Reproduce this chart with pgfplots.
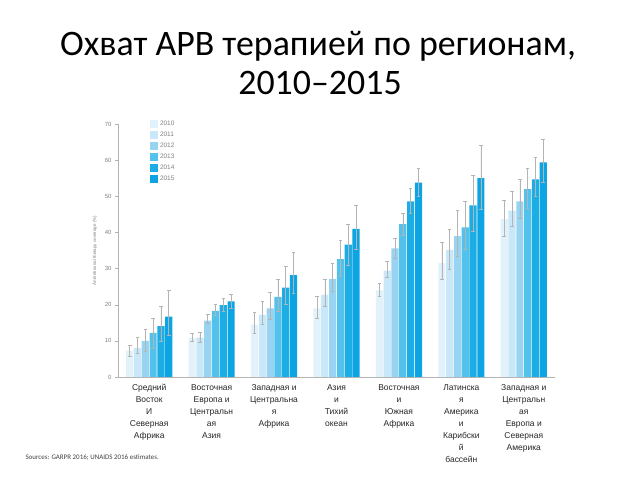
\documentclass[border=0pt]{standalone}
\usepackage{fontspec}
\setmainfont{Carlito}
\newfontfamily\labelfont{Liberation Sans}
\usepackage{pgfplots}
\pgfplotsset{compat=1.18}

\definecolor{c2010}{HTML}{E2F2FB}
\definecolor{c2011}{HTML}{C8E7F8}
\definecolor{c2012}{HTML}{98D4F1}
\definecolor{c2013}{HTML}{52C2EC}
\definecolor{c2014}{HTML}{1CADE5}
\definecolor{c2015}{HTML}{0CA4E2}
\definecolor{errc}{HTML}{B4B4B4}

\begin{document}
\begin{tikzpicture}
\path[use as bounding box] (0,0) rectangle (640bp,480bp);

\node[anchor=base, font=\fontsize{36}{40}\selectfont] at (318bp,424bp) {Охват АРВ терапией по регионам,};
\node[anchor=base, font=\fontsize{36}{40}\selectfont] at (320bp,385bp) {2010–2015};
\node[anchor=base west, font=\fontsize{7}{8}\selectfont, text=black!75] at (22bp,21bp) {Sources: GARPR 2016; UNAIDS 2016 estimates.};

\begin{axis}[
    at={(118bp,103bp)}, anchor=south west,
    scale only axis, width=437bp, height=253bp,
    xmin=-0.5, xmax=6.5, ymin=0, ymax=70,
    ybar=0.6bp, bar width=7.2bp,
    axis x line*=bottom, axis y line*=left,
    axis line style={-, errc, line width=0.5pt},
    ytick={0,10,...,70},
    tick align=outside, major tick length=3bp,
    ytick style={errc},
    xtick={0,...,6}, x tick style={draw=none},
    xticklabels={
      {Средний\\Восток\\И\\Северная\\Африка},
      {Восточная\\Европа и\\Центральн\\ая\\Азия},
      {Западная и\\Центральна\\я\\Африка},
      {Азия\\и\\Тихий\\океан},
      {Восточная\\и\\Южная\\Африка},
      {Латинска\\я\\Америка\\и\\Карибски\\й\\бассейн},
      {Западная и\\Центральн\\ая\\Европа и\\Северная\\Америка}},
    x tick label style={align=center, font=\labelfont\fontsize{8.5}{12}\selectfont, text=black!85, yshift=-1bp},
    y tick label style={font=\labelfont\fontsize{6}{7}\selectfont, text=gray},
    /pgf/number format/assume math mode=true,
    ylabel={Antiretroviral therapy coverage (\%)},
    ylabel style={at={(axis description cs:-0.053,0.5)}, anchor=center, font=\labelfont\fontsize{4.5}{5}\selectfont, text=gray},
    error bars/y dir=both, error bars/y explicit,
    error bars/error bar style={errc, line width=0.6pt},
    error bars/error mark options={errc, rotate=90, mark size=1.8bp, line width=0.6pt},
    legend style={at={(0.066,1.03)}, anchor=north west, draw=none, fill=none,
        font=\labelfont\fontsize{6.5}{7}\selectfont, text=gray, row sep=1bp},
    legend cell align=left,
    legend image code/.code={\fill[#1] (0bp,-4bp) rectangle (8bp,4bp);},
  ]
\addplot[fill=c2010, draw=none] coordinates {
  (0,7.3) += (0,1.6) -= (0,1.7)
  (1,10.8) += (0,1.2) -= (0,0.8)
  (2,14.5) += (0,3.3) -= (0,2.5)
  (3,19) += (0,3.2) -= (0,2.7)
  (4,24) += (0,1.8) -= (0,1.8)
  (5,31.5) += (0,5.7) -= (0,4.5)
  (6,43.7) += (0,5.2) -= (0,4.7)
};
\addplot[fill=c2011, draw=none] coordinates {
  (0,8) += (0,3) -= (0,1.5)
  (1,10.9) += (0,1.5) -= (0,1.4)
  (2,17.2) += (0,3.8) -= (0,2.7)
  (3,22.7) += (0,4.3) -= (0,3)
  (4,29.4) += (0,2.5) -= (0,1.8)
  (5,35.2) += (0,5.7) -= (0,5.4)
  (6,46) += (0,5.5) -= (0,4.4)
};
\addplot[fill=c2012, draw=none] coordinates {
  (0,10) += (0,3.3) -= (0,3)
  (1,15.6) += (0,1.8) -= (0,0.8)
  (2,19) += (0,4.5) -= (0,3)
  (3,27.1) += (0,4.4) -= (0,3.5)
  (4,35.6) += (0,2.8) -= (0,2.8)
  (5,39) += (0,7) -= (0,5.7)
  (6,48.6) += (0,6) -= (0,4.7)
};
\addplot[fill=c2013, draw=none] coordinates {
  (0,12.2) += (0,4.1) -= (0,4.2)
  (1,18.3) += (0,1.8) -= (0,1.3)
  (2,22.2) += (0,4.7) -= (0,4.1)
  (3,32.6) += (0,5.2) -= (0,4.8)
  (4,42.3) += (0,3) -= (0,3)
  (5,41.4) += (0,7.2) -= (0,6.2)
  (6,52) += (0,5.8) -= (0,5.3)
};
\addplot[fill=c2014, draw=none] coordinates {
  (0,14.1) += (0,5.6) -= (0,4.3)
  (1,19.9) += (0,1.9) -= (0,1.8)
  (2,24.7) += (0,5.8) -= (0,4.7)
  (3,36.6) += (0,5.7) -= (0,5.6)
  (4,48.6) += (0,3.6) -= (0,3.3)
  (5,47.5) += (0,8.3) -= (0,7.1)
  (6,54.7) += (0,6.1) -= (0,4.8)
};
\addplot[fill=c2015, draw=none] coordinates {
  (0,16.7) += (0,7.2) -= (0,5.1)
  (1,20.9) += (0,2) -= (0,1.9)
  (2,28.2) += (0,6.2) -= (0,5)
  (3,41) += (0,6.4) -= (0,5.8)
  (4,53.8) += (0,4) -= (0,3.8)
  (5,55) += (0,9) -= (0,8.5)
  (6,59.4) += (0,6.5) -= (0,5.4)
};
\legend{2010,2011,2012,2013,2014,2015}
\end{axis}
\end{tikzpicture}
\end{document}
